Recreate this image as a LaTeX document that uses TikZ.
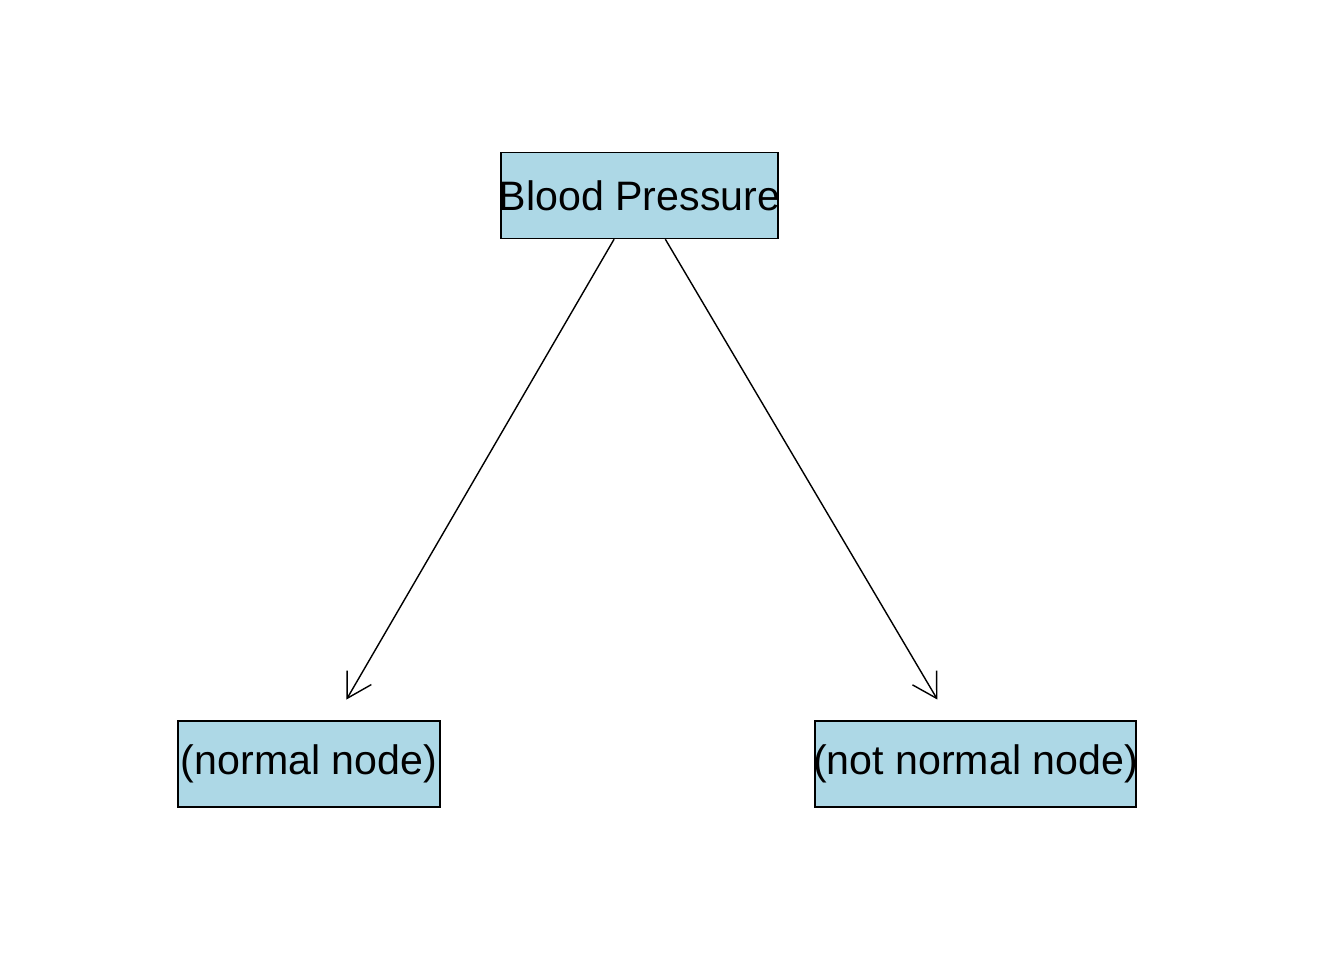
\documentclass[tikz,border=0pt]{standalone}
\usepackage{fontspec}
\setmainfont{Liberation Sans}
\usetikzlibrary{arrows.meta}
\definecolor{lightblue}{HTML}{ADD8E6}
\newcommand{\boxtext}[1]{\makebox[0pt]{#1}}
\begin{document}
\begin{tikzpicture}[x=0.01cm,y=-0.01cm,
 box/.style={draw,fill=lightblue,line width=0.4pt,inner sep=0pt,minimum height=0.86cm,font=\fontsize{11.7}{14}\selectfont},
 link/.style={line width=0.4pt,-{Straight Barb[length=0.24cm,width=0.28cm]},shorten >=0.24cm}]
 \useasboundingbox (0,0) rectangle (1344,960);
 \node[box,minimum width=2.77cm] (bp) at (639.5,195.5) {\boxtext{Blood Pressure}};
 \node[box,minimum width=2.62cm] (normal) at (309,764) {\boxtext{(normal node)}};
 \node[box,minimum width=3.21cm] (notnormal) at (975.5,764) {\boxtext{(not normal node)}};
 \draw[link] (bp) -- (normal);
 \draw[link] (bp) -- (notnormal);
\end{tikzpicture}
\end{document}
